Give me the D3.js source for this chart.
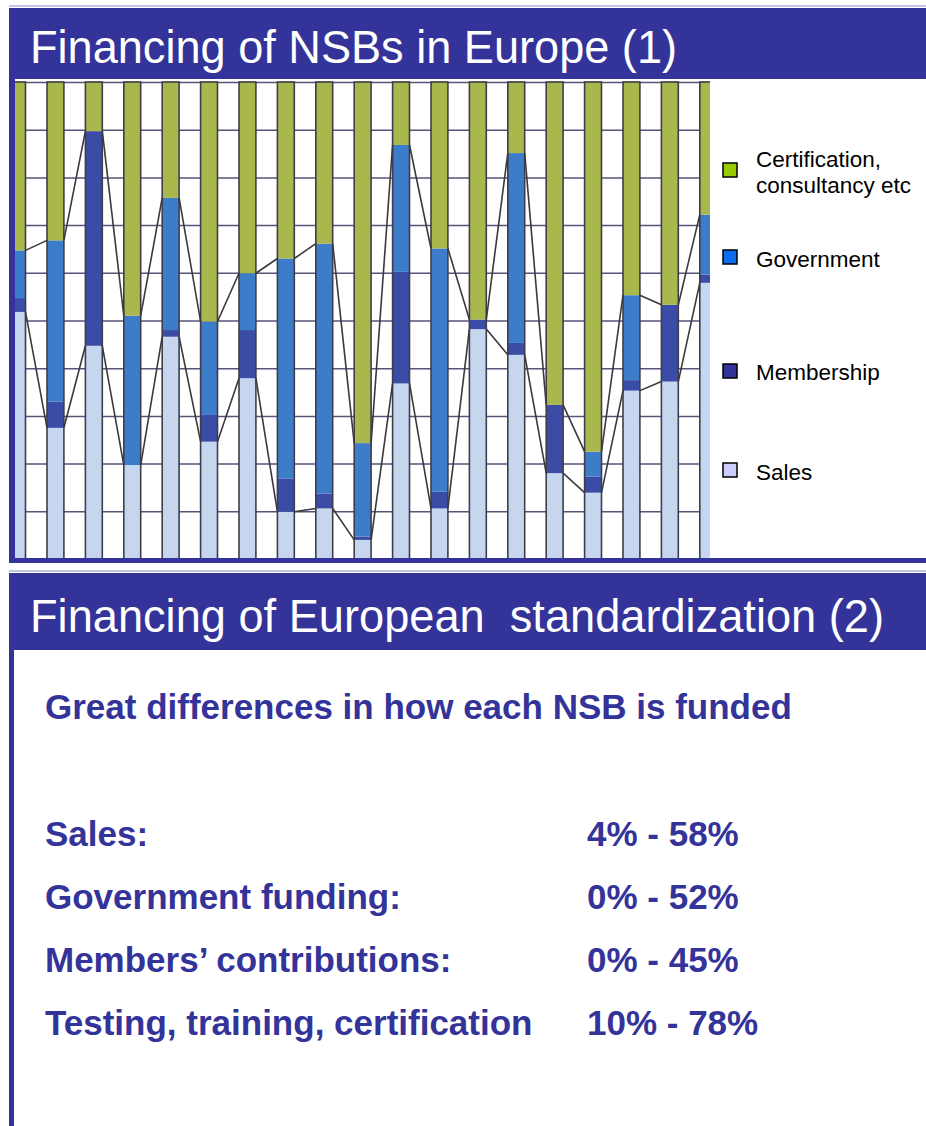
<html><head>
<script src="https://cdnjs.cloudflare.com/ajax/libs/d3/7.8.5/d3.min.js"></script>
<style>
body {
    margin: 0;
    background: #ffffff;
    font-family: "Liberation Sans", Arial, sans-serif;
}
.grid line {
    stroke: #55557a;
    stroke-width: 1.5;
}
.grid path {
    display: none;
}
</style>
</head>
<body>
<div id="slide"></div>
<script>
// values (percent of income per NSB)
const nsbs = d3.range(1, 20).map(i => "NSB " + i);
const sales = [51.8, 27.5, 44.7, 19.7, 46.6, 24.6, 37.9, 9.9, 10.6, 4.0, 36.8, 10.6, 48.2, 42.8, 18.0, 13.9, 35.3, 37.2, 57.9];
const membership = [2.9, 5.5, 45.0, 0, 1.4, 5.6, 10.1, 7.0, 3.1, 0.7, 23.4, 3.5, 2.0, 2.5, 14.3, 3.4, 2.2, 16.1, 1.7];
const government = [10.0, 33.8, 0, 31.3, 27.7, 19.6, 11.9, 46.1, 52.4, 19.6, 26.6, 51.0, 0, 39.8, 0, 5.2, 17.8, 0, 12.6];
const certification = [35.3, 33.2, 10.3, 49.0, 24.3, 50.2, 40.1, 37.0, 33.9, 75.7, 13.2, 34.9, 49.8, 14.9, 67.7, 77.5, 44.7, 46.7, 27.8];
const yTicks = d3.range(0, 101, 10);

const keys = ["Sales", "Membership", "Government", "Certification, consultancy etc"];
const colors = ["#c6d6ef", "#3a4ca6", "#3d7cc9", "#a9b74c"];
const legendColors = ["#ccccff", "#333399", "#0a6cf0", "#99cc00"];

const rows = nsbs.map((n, i) => ({
    name: n,
    "Sales": sales[i],
    "Membership": membership[i],
    "Government": government[i],
    "Certification, consultancy etc": certification[i]
}));

const W = 926, H = 1126;
const navy = "#333399";

const svg = d3.select("#slide").append("svg")
    .attr("width", W)
    .attr("height", H);

// ---------- slide 1 ----------
svg.append("rect").attr("x", 9).attr("y", 5).attr("width", W - 9).attr("height", 2).attr("fill", "#c4c4e6");
svg.append("rect").attr("x", 9).attr("y", 8).attr("width", W - 9).attr("height", 71).attr("fill", navy);
svg.append("text")
    .attr("x", 30).attr("y", 63)
    .attr("fill", "#fff")
    .style("font-size", "47px")
    .attr("textLength", 647)
    .attr("lengthAdjust", "spacingAndGlyphs")
    .text("Financing of NSBs in Europe (1)");

const plot = {left: 14, right: 710, top: 82, bottom: 559};

svg.append("clipPath").attr("id", "plotclip")
    .append("rect")
    .attr("x", plot.left).attr("y", 79)
    .attr("width", plot.right - plot.left).attr("height", plot.bottom - 79);

const g = svg.append("g").attr("clip-path", "url(#plotclip)");

const x = d3.scaleBand()
    .domain(nsbs)
    .range([-2.15, 727.45])
    .paddingInner(0.56)
    .paddingOuter(0.28);

const y = d3.scaleLinear()
    .domain([0, 100])
    .range([plot.bottom, plot.top]);

g.append("g")
    .attr("class", "grid")
    .attr("transform", `translate(${plot.right},0)`)
    .call(d3.axisLeft(y).tickValues(yTicks).tickSize(plot.right - plot.left).tickFormat(""));

const stacked = d3.stack().keys(keys)(rows);

g.selectAll("g.layer")
    .data(stacked)
    .join("g")
    .attr("class", "layer")
    .attr("fill", (d, i) => colors[i])
    .selectAll("rect")
    .data(d => d)
    .join("rect")
    .attr("x", d => x(d.data.name))
    .attr("width", x.bandwidth())
    .attr("y", d => y(d[1]))
    .attr("height", d => y(d[0]) - y(d[1]));

// bar outlines
g.selectAll("rect.outline")
    .data(rows)
    .join("rect")
    .attr("class", "outline")
    .attr("x", d => x(d.name))
    .attr("width", x.bandwidth())
    .attr("y", y(100))
    .attr("height", y(0) - y(100))
    .attr("fill", "none")
    .attr("stroke", "#3e3e4a")
    .attr("stroke-width", 1.6);

// series lines (top of sales, top of government)
[0, 2].forEach(li => {
    const layer = stacked[li];
    const segs = d3.range(layer.length - 1).map(i => [
        [x(layer[i].data.name) + x.bandwidth(), y(layer[i][1])],
        [x(layer[i + 1].data.name), y(layer[i + 1][1])]
    ]);
    g.selectAll(null)
        .data(segs)
        .join("line")
        .attr("x1", d => d[0][0]).attr("y1", d => d[0][1])
        .attr("x2", d => d[1][0]).attr("y2", d => d[1][1])
        .attr("stroke", "#3a3a3e")
        .attr("stroke-width", 1.6);
});

// frame of the chart section
svg.append("rect").attr("x", 9).attr("y", 79).attr("width", 6).attr("height", 484).attr("fill", navy);
svg.append("rect").attr("x", 9).attr("y", 558).attr("width", W - 9).attr("height", 5).attr("fill", navy);

// legend
const legendItems = [
    {color: legendColors[3], lines: ["Certification,", "consultancy etc"], y: 163, base: 167},
    {color: legendColors[2], lines: ["Government"], y: 250, base: 267},
    {color: legendColors[1], lines: ["Membership"], y: 364, base: 380},
    {color: legendColors[0], lines: ["Sales"], y: 463, base: 480}
];
const legend = svg.append("g");
legendItems.forEach(it => {
    legend.append("rect")
        .attr("x", 723).attr("y", it.y)
        .attr("width", 14).attr("height", 14)
        .attr("fill", it.color)
        .attr("stroke", "#000")
        .attr("stroke-width", 1.5);
    it.lines.forEach((t, j) => {
        legend.append("text")
            .attr("x", 756).attr("y", it.base + j * 26)
            .attr("fill", "#000")
            .style("font-size", "22.5px")
            .text(t);
    });
});

// ---------- slide 2 ----------
svg.append("rect").attr("x", 9).attr("y", 570).attr("width", W - 9).attr("height", 2).attr("fill", "#c4c4e6");
svg.append("rect").attr("x", 9).attr("y", 573).attr("width", W - 9).attr("height", 77).attr("fill", navy);
svg.append("rect").attr("x", 9).attr("y", 650).attr("width", 5).attr("height", H - 650).attr("fill", navy);
svg.append("text")
    .attr("x", 30).attr("y", 632)
    .attr("fill", "#fff")
    .style("font-size", "47px")
    .style("white-space", "pre")
    .attr("textLength", 854)
    .attr("lengthAdjust", "spacingAndGlyphs")
    .text("Financing of European  standardization (2)");

const headline = "Great differences in how each NSB is funded";
const rangeLabels = ["Sales:", "Government funding:", "Members\u2019 contributions:", "Testing, training, certification"];
const rangeValues = ["4% - 58%", "0% - 52%", "0% - 45%", "10% - 78%"];

svg.append("text")
    .attr("x", 45).attr("y", 719)
    .attr("fill", navy)
    .style("font-size", "35px")
    .style("font-weight", "bold")
    .text(headline);

rangeLabels.forEach((t, i) => {
    const by = 846 + i * 63;
    svg.append("text")
        .attr("x", 45).attr("y", by)
        .attr("fill", navy)
        .style("font-size", "35px")
        .style("font-weight", "bold")
        .text(t);
    svg.append("text")
        .attr("x", 587).attr("y", by)
        .attr("fill", navy)
        .style("font-size", "35px")
        .style("font-weight", "bold")
        .text(rangeValues[i]);
});
</script>
</body></html>
